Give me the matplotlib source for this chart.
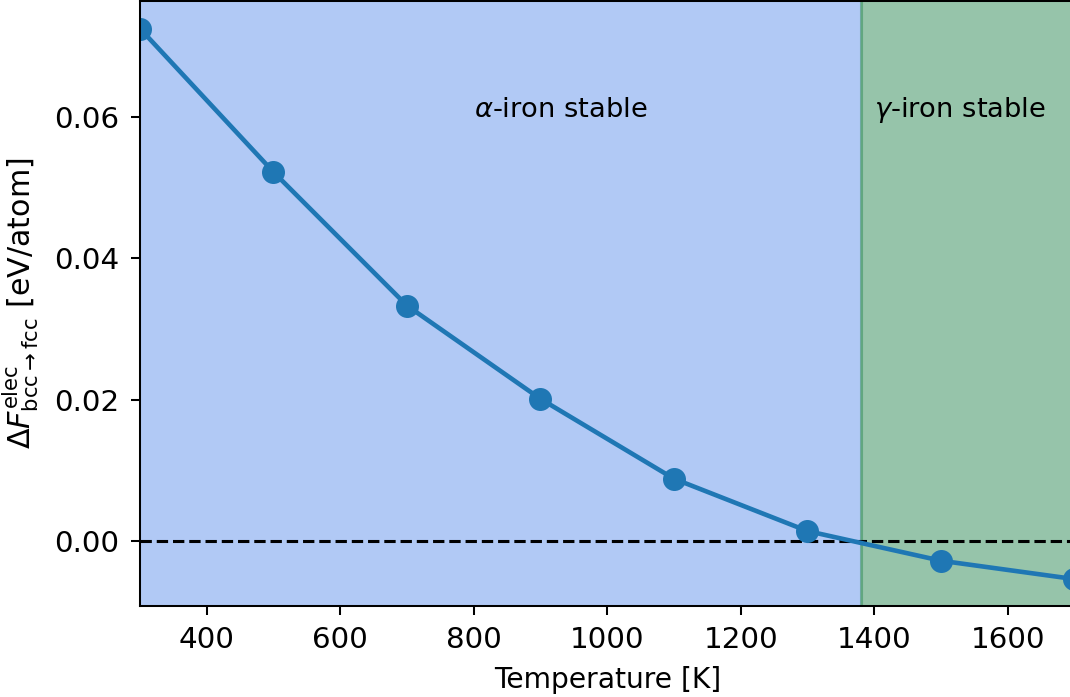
import matplotlib
matplotlib.use('Agg')
import matplotlib.pyplot as plt
import numpy as np

# electronic free energy difference bcc -> fcc
temperature = [300, 500, 700, 900, 1100, 1300, 1500, 1700]
delta_f = [0.0725, 0.0522, 0.0333, 0.0201, 0.0088, 0.0014, -0.0028, -0.0054]

t_transition = 1380
x_ticks = [400, 600, 800, 1000, 1200, 1400, 1600]
y_ticks = [0.00, 0.02, 0.04, 0.06]

plt.rcParams['xtick.labelsize'] = 11.5
plt.rcParams['ytick.labelsize'] = 11.5

dpi = 184
fig = plt.figure(figsize=(1070 / dpi, 697 / dpi), dpi=dpi)
ax = fig.add_axes([0.1308, 0.1306, 0.8734, 0.8680])

ax.axvspan(temperature[0], t_transition, color='cornflowerblue', alpha=0.5, lw=0)
ax.axvspan(t_transition, temperature[-1], color='seagreen', alpha=0.5, lw=0)
ax.axvline(t_transition, color='seagreen', alpha=0.5, lw=1.2)

ax.axhline(0, color='k', linestyle='--', lw=1.2)
ax.plot(temperature, delta_f, marker='o', ms=8, lw=1.8, color='tab:blue')

ax.text(800, 0.06, r'$\alpha$-iron stable', fontsize=10.7)
ax.text(1400, 0.06, r'$\gamma$-iron stable', fontsize=10.7)

ax.set_xlim(300, 1700)
ax.set_ylim(-0.0092, 0.0764)
ax.set_xticks(x_ticks)
ax.set_yticks(y_ticks)
ax.tick_params(pad=4.5)
ax.set_xlabel('Temperature [K]', fontsize=11, labelpad=4.5)
ax.set_ylabel(r'$\Delta F^{\mathrm{elec}}_{\mathrm{bcc}\rightarrow\mathrm{fcc}}$ [eV/atom]',
              fontsize=11.8, labelpad=5)

fig.savefig('out.png', dpi=dpi)
